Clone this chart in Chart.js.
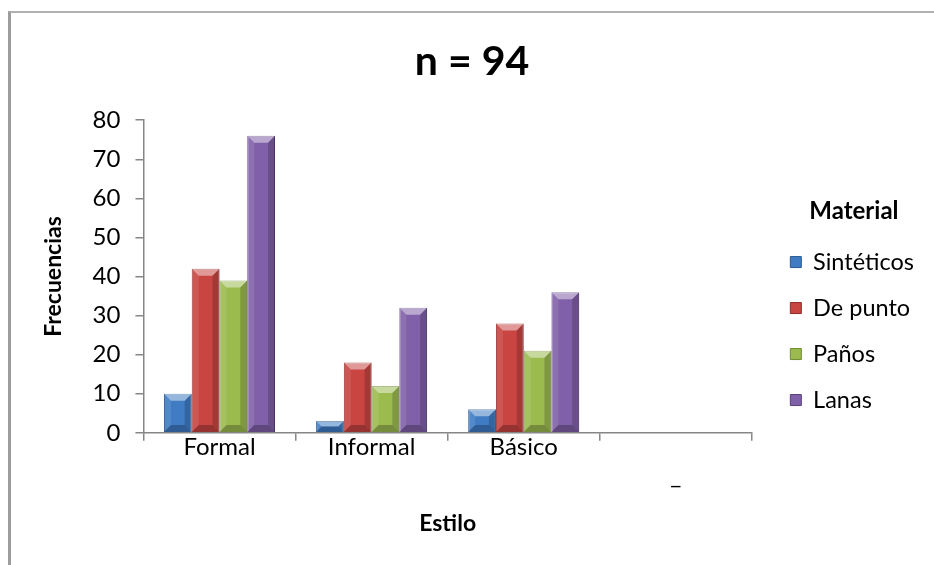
<!DOCTYPE html>
<html>
<head>
<meta charset="utf-8">
<script src="https://cdn.jsdelivr.net/npm/chart.js@4"></script>
<style>
    html, body { margin: 0; padding: 0; background: #fff; }
    #wrap { position: relative; width: 934px; height: 565px; overflow: hidden; }
    #frame { position: absolute; left: 8px; top: 11px; width: 940px; height: 570px;
             border-left: 3px solid #9c9c9c; border-top: 2px solid #b0b0b0; }
    #graph1 { position: absolute; left: 0; top: 0; }
</style>
</head>
<body>
<div id="wrap">
    <div id="frame"></div>
    <canvas id="graph1" width="934" height="565"></canvas>
</div>
<script>
"use strict"

// data
const labels = ['Formal', 'Informal', 'Básico', ['', '_']];
const sinteticos = [10, 3, 6, null];
const dePunto = [42, 18, 28, null];
const panos = [39, 12, 21, null];
const lanas = [76, 32, 36, null];

const fontName = 'Lato, "Open Sans", sans-serif';

// bevel look of the bars, drawn over each bar element
const bevel = {
    id: 'bevel',
    afterLayout(chart) {
        // legend sits a bit further right than the library puts it
        const lg = chart.legend;
        lg.left += 16;
        lg.width += 16;
        lg.right = lg.left + lg.width;
    },
    afterDatasetsDraw(chart) {
        const ctx = chart.ctx;
        chart.data.datasets.forEach((ds, i) => {
            const meta = chart.getDatasetMeta(i);
            meta.data.forEach(bar => {
                if (bar.skip || isNaN(bar.y)) return;
                const l = bar.x - bar.width / 2, r = bar.x + bar.width / 2;
                const t = Math.min(bar.y, bar.base), bot = Math.max(bar.y, bar.base);
                const b = Math.min(7, (bot - t) / 2, bar.width / 2);
                const poly = (pts, fill) => {
                    ctx.beginPath();
                    ctx.moveTo(pts[0][0], pts[0][1]);
                    pts.slice(1).forEach(p => ctx.lineTo(p[0], p[1]));
                    ctx.closePath();
                    ctx.fillStyle = fill;
                    ctx.fill();
                };
                ctx.save();
                poly([[l, t], [r, t], [r - b, t + b], [l + b, t + b]], 'rgba(255,255,255,0.45)');
                poly([[l, t], [l + b, t + b], [l + b, bot - b], [l, bot]], 'rgba(255,255,255,0.10)');
                poly([[r, t], [r - b, t + b], [r - b, bot - b], [r, bot]], 'rgba(0,0,0,0.18)');
                poly([[l, bot], [l + b, bot - b], [r - b, bot - b], [r, bot]], 'rgba(0,0,0,0.25)');
                ctx.restore();
            });
        });
    }
};

let plotData = {
    labels: labels,
    datasets: [
        { label: 'Sintéticos', data: sinteticos, backgroundColor: '#3f7cc4', borderColor: '#2b5a92' },
        { label: 'De punto', data: dePunto, backgroundColor: '#c84542', borderColor: '#8f2c2a' },
        { label: 'Paños', data: panos, backgroundColor: '#9bbb4f', borderColor: '#6f8a34' },
        { label: 'Lanas', data: lanas, backgroundColor: '#8060a8', borderColor: '#5a3f7c' }
    ]
};

let config = {
    type: 'bar',
    data: plotData,
    options: {
        responsive: false,
        animation: false,
        categoryPercentage: 0.73,
        barPercentage: 1,
        borderWidth: 1,
        layout: {
            padding: { top: 37, left: 36, right: 26, bottom: 28 }
        },
        scales: {
            x: {
                grid: { drawOnChartArea: false, drawTicks: true, tickLength: 8, color: '#868686', lineWidth: 1.5 },
                border: { color: '#868686', width: 1.5 },
                ticks: { color: '#000', font: { family: fontName, size: 24 }, padding: -8, maxRotation: 0 },
                title: {
                    display: true, text: 'Estilo', color: '#000',
                    font: { family: fontName, size: 23, weight: 'bold' }, padding: { top: 27, bottom: 0 }
                }
            },
            y: {
                min: 0, max: 80,
                grid: { drawOnChartArea: false, drawTicks: true, tickLength: 8, color: '#868686', lineWidth: 1.5 },
                border: { color: '#868686', width: 1.5 },
                ticks: { stepSize: 10, color: '#000', font: { family: fontName, size: 24 }, padding: 15 },
                title: {
                    display: true, text: 'Frecuencias', color: '#000',
                    font: { family: fontName, size: 23, weight: 'bold' }, padding: { bottom: 10 }
                }
            }
        },
        plugins: {
            title: {
                display: true, text: 'n = 94', color: '#000',
                font: { family: fontName, size: 41, weight: 'bold' },
                padding: { top: 0, bottom: 34 }
            },
            legend: {
                position: 'right',
                align: 'start',
                title: {
                    display: true, text: 'Material', color: '#000',
                    font: { family: fontName, size: 24, weight: 'bold' }, padding: { top: 162, bottom: 0 }
                },
                labels: {
                    color: '#000', boxWidth: 11, boxHeight: 11,
                    font: { family: fontName, size: 23.5 }, padding: 22.5
                }
            },
            tooltip: { enabled: false }
        }
    },
    plugins: [bevel]
};

const canvas = document.getElementById('graph1').getContext('2d');
const chart1 = new Chart(canvas, config);
</script>
</body>
</html>
